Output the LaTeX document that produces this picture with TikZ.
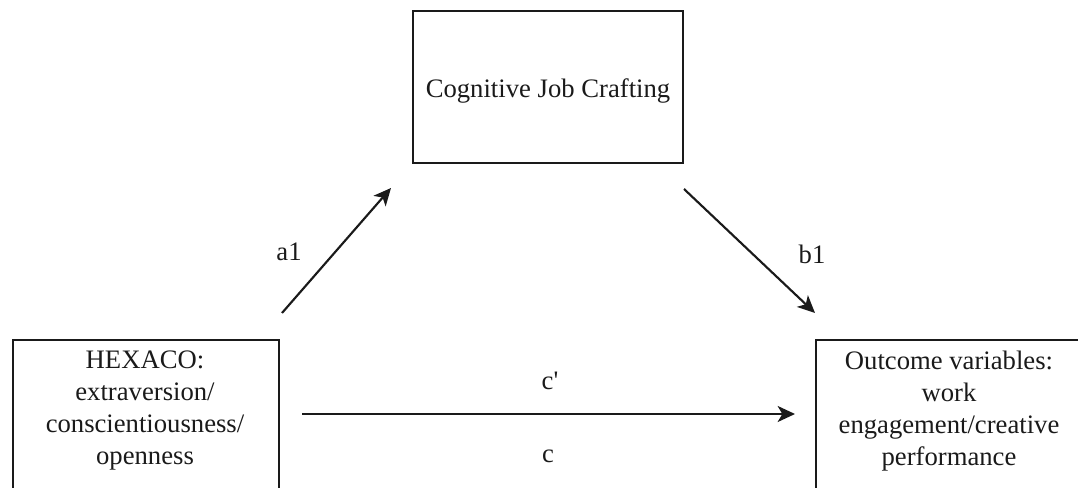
\documentclass[tikz,border=0pt]{standalone}
\usepackage{fontspec}
\setmainfont{Liberation Serif}
\usetikzlibrary{arrows.meta}
\definecolor{ink}{HTML}{1A1A1A}
\tikzset{
  boxshape/.style={draw=ink, line width=1.5pt, rectangle, inner sep=0pt},
  txt/.style={text=ink, font=\fontsize{20pt}{24pt}\selectfont, align=center, inner sep=0pt},
  conn/.style={draw=ink, line width=1.6pt, -{Stealth[length=13pt, width=12pt, inset=3.5pt]}},
  lab/.style={text=ink, font=\fontsize{20pt}{24pt}\selectfont, inner sep=0pt}
}
\begin{document}
\begin{tikzpicture}[x=0.75pt, y=-0.75pt]
\useasboundingbox (0,0) rectangle (1078,488);
\clip (0,0) rectangle (1078,488);
% boxes
\node[boxshape, txt, text height=19.7pt, minimum width=202.5pt, minimum height=114pt] (cjc) at (548,87) {Cognitive Job Crafting};
\node[boxshape, anchor=north west, minimum width=199.5pt, minimum height=150pt] (hexbox) at (12,339) {};
\node[boxshape, anchor=north west, minimum width=240pt, minimum height=150pt] (outbox) at (815,339) {};
% texts
\node[txt] (hex) at (145,411) {HEXACO:\\extraversion/\\conscientiousness/\\openness};
\node[txt] (out) at (949,411) {Outcome variables:\\work\\engagement/creative\\performance};
% connector end points
\coordinate (a1s) at ([shift={(2,-26)}]hexbox.north east);
\coordinate (a1e) at ([shift={(-21,24)}]cjc.south west);
\coordinate (b1s) at ([shift={(0,25)}]cjc.south east);
\coordinate (b1e) at ([shift={(0,-26)}]outbox.north west);
\coordinate (cs) at (hexbox.north east |- 0,414);
\coordinate (ce) at (outbox.north west |- 0,414);
% connectors
\draw[conn] (a1s) -- (a1e);
\draw[conn] (b1s) -- (b1e);
\draw[conn] ([xshift=16.5pt]cs) -- ([xshift=-15pt]ce);
% labels
\node[lab] (la1) at (289,252) {a1};
\node[lab] (lb1) at (812,254) {b1};
\node[lab] (lcp) at (550,381) {c\textquotesingle};
\node[lab] (lc) at (548,456) {c};
\end{tikzpicture}
\end{document}
